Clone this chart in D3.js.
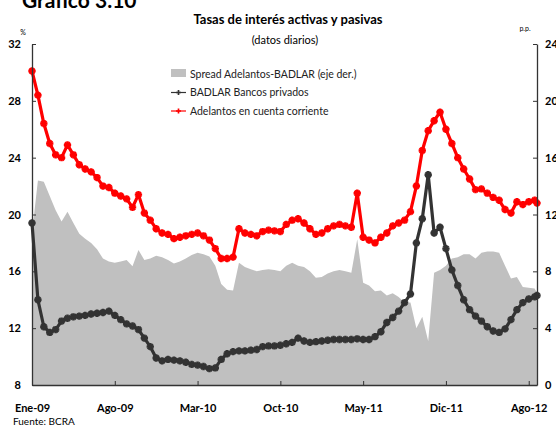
<!DOCTYPE html>
<html><head><meta charset="utf-8">
<script src="https://cdn.jsdelivr.net/npm/d3@7"></script>
<style>
body{margin:0;background:#fff}
text{font-family:Lato,"Open Sans",sans-serif}
</style>
</head><body>
<svg id="c" width="556" height="426"></svg>
<script>
// month offsets from Jan-2009 (x grid)
const months = [0,0.5,1,1.5,2,2.5,3,3.5,4,4.5,5,5.5,6,6.5,7,7.5,8,8.5,9,9.5,
 10,10.5,11,11.5,12,12.5,13,13.5,14,14.5,15,15.5,16,16.5,17,17.5,18,18.5,19,19.5,
 20,20.5,21,21.5,22,22.5,23,23.5,24,24.5,25,25.5,26,26.5,27,27.5,28,28.5,29,29.5,
 30,30.5,31,31.5,32,32.5,33,33.5,34,34.5,35,35.5,36,36.5,37,37.5,38,38.5,39,39.5,
 40,40.5,41,41.5,42,42.5,42.7];
// Adelantos en cuenta corriente (%)
const adelantos = [30.1,28.4,26.4,25.0,24.2,24.0,24.9,24.2,23.5,23.2,
 23.0,22.6,22.0,21.9,21.5,21.3,21.1,20.5,21.4,20.1,
 19.6,19.0,18.7,18.6,18.3,18.4,18.5,18.6,18.7,18.5,
 18.2,17.6,16.9,16.9,17.0,19.0,18.7,18.6,18.5,18.8,
 18.9,18.85,18.8,19.3,19.6,19.7,19.4,19.0,18.6,18.7,
 19.0,19.2,19.3,19.2,19.1,21.5,18.4,18.2,18.0,18.4,
 18.7,19.2,19.4,19.6,20.2,22.0,24.5,25.9,26.6,27.2,
 26.0,25.0,24.0,23.2,22.5,21.75,21.8,21.5,21.2,21.0,
 20.35,20.1,20.9,20.7,20.9,21.0,20.8];
// BADLAR Bancos privados (%)
const badlar = [19.4,14.0,12.1,11.7,11.9,12.5,12.7,12.8,12.85,12.9,
 13.0,13.05,13.1,13.2,12.9,12.6,12.3,12.15,11.9,11.3,
 10.7,9.9,9.7,9.8,9.75,9.7,9.6,9.45,9.4,9.3,
 9.15,9.2,9.8,10.2,10.35,10.4,10.4,10.45,10.5,10.7,
 10.75,10.75,10.8,10.9,11.0,11.3,11.1,11.0,11.05,11.1,
 11.15,11.2,11.2,11.2,11.2,11.25,11.2,11.2,11.4,11.75,
 12.4,12.75,13.2,13.8,14.4,18.0,19.7,22.8,18.7,19.1,
 17.6,16.1,15.0,14.0,13.3,12.85,12.5,12.1,11.8,11.7,
 11.95,12.6,13.3,13.8,14.05,14.2,14.3];
// Spread (p.p.) = Adelantos - BADLAR
const spread = adelantos.map((v,i)=>v-badlar[i]);

const xTickMonths = [0,7,14,21,28,35,42];
const xTickLabels = ["Ene-09","Ago-09","Mar-10","Oct-10","May-11","Dic-11","Ago-12"];
const leftTicks = [8,12,16,20,24,28,32];
const rightTicks = [0,4,8,12,16,20,24];
const legendLabels = ["Spread Adelantos-BADLAR (eje der.)","BADLAR Bancos privados","Adelantos en cuenta corriente"];

const svg = d3.select('#c');
const x = d3.scaleLinear().domain([0,42.7]).range([32,537]);
const yL = d3.scaleLinear().domain([8,32]).range([385,44]);
const yR = d3.scaleLinear().domain([0,24]).range([385,44]);

const data = months.map((m,i)=>({m, a:adelantos[i], b:badlar[i], s:spread[i]}));

// area
svg.append('path').datum(data)
  .attr('fill','#c0c0c0')
  .attr('d', d3.area().x(d=>x(d.m)).y0(yR(0)).y1(d=>yR(d.s)));

function drawSeries(key, color){
  svg.append('path').datum(data)
    .attr('fill','none').attr('stroke',color).attr('stroke-width',3.2)
    .attr('stroke-linejoin','round')
    .attr('d', d3.line().x(d=>x(d.m)).y(d=>yL(d[key])));
  const sym = d3.symbol().type(d3.symbolCross).size(30);
  svg.append('g').selectAll('path').data(data).join('path')
    .attr('transform', d=>`translate(${x(d.m)},${yL(d[key])}) rotate(45)`)
    .attr('d', sym).attr('fill',color);
  svg.append('g').selectAll('path').data(data).join('path')
    .attr('transform', d=>`translate(${x(d.m)},${yL(d[key])})`)
    .attr('d', sym).attr('fill',color);
}
drawSeries('b','#333333');
drawSeries('a','#ff0000');

// axes
const axisColor = '#333';
const gL = svg.append('g').attr('transform','translate(32,0)')
  .call(d3.axisLeft(yL).tickValues(leftTicks).tickSizeInner(-4).tickSizeOuter(0).tickPadding(11));
const gR = svg.append('g').attr('transform','translate(537,0)')
  .call(d3.axisRight(yR).tickValues(rightTicks).tickSizeInner(-4).tickSizeOuter(0).tickPadding(8));
const gB = svg.append('g').attr('transform','translate(0,385)')
  .call(d3.axisBottom(x).tickValues(xTickMonths).tickFormat((d,i)=>xTickLabels[i]).tickSizeInner(-4).tickSizeOuter(0).tickPadding(19));
[gL,gR,gB].forEach(g=>{
  g.select('.domain').attr('stroke',axisColor).attr('stroke-width',1.3);
  g.selectAll('.tick line').attr('stroke',axisColor);
  g.selectAll('.tick text').attr('font-family','Lato, sans-serif').attr('font-weight','bold').attr('font-size',11).attr('fill','#000');
});

// titles
svg.append('text').attr('x',22).attr('y',8).attr('font-family','"Liberation Serif", serif').attr('font-weight','bold').attr('font-size',21).text('Gráfico 3.10');
svg.append('text').attr('x',288).attr('y',24).attr('text-anchor','middle').attr('font-weight','bold').attr('font-size',13).text('Tasas de interés activas y pasivas');
svg.append('text').attr('x',285).attr('y',44).attr('text-anchor','middle').attr('font-size',11).text('(datos diarios)');
svg.append('text').attr('x',23).attr('y',35).attr('text-anchor','middle').attr('font-size',7).text('%');
svg.append('text').attr('x',525).attr('y',31).attr('text-anchor','middle').attr('font-size',7).text('p.p.');
svg.append('text').attr('x',13).attr('y',425).attr('font-size',10).text('Fuente: BCRA');

// legend
const lg = svg.append('g');
lg.append('rect').attr('x',171).attr('y',69).attr('width',15).attr('height',8).attr('fill','#c0c0c0');
const lcols = ['#333333','#ff0000'];
[92.5,111].forEach((yy,i)=>{
  lg.append('line').attr('x1',171).attr('x2',186).attr('y1',yy).attr('y2',yy).attr('stroke',lcols[i]).attr('stroke-width',1.2);
  lg.append('path').attr('transform',`translate(178.5,${yy})`).attr('d',d3.symbol().type(d3.symbolCross).size(14)).attr('fill',lcols[i]);
});
[74,92.5,111].forEach((yy,i)=>{
  lg.append('text').attr('x',190).attr('y',yy+3.7).attr('font-size',10.5).attr('fill','#222').text(legendLabels[i]);
});
</script>
</body></html>
